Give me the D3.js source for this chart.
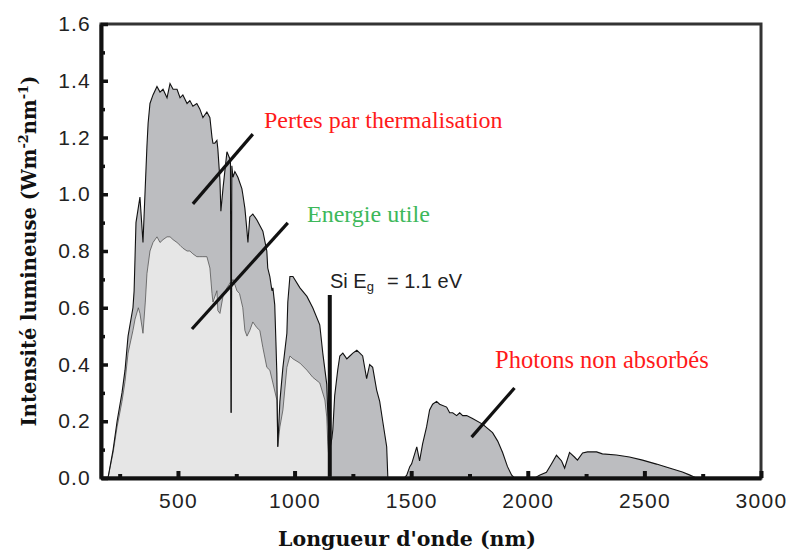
<!DOCTYPE html>
<html>
<head>
<meta charset="utf-8">
<script src="https://cdn.jsdelivr.net/npm/d3@7"></script>
<style>
  body { margin: 0; background: #fff; }
  svg { display: block; }
</style>
</head>
<body>
<svg id="chart" width="791" height="552"></svg>
<script>
const width = 791;
const height = 552;

// total solar spectrum [nm, W m-2 nm-1]
const totalSpectrum = [
    [200, 0], [222, 0.10], [239, 0.20], [260, 0.30], [273, 0.38], [286, 0.50], [307, 0.60],
    [312, 0.66], [320, 0.90], [337, 0.99], [350, 0.83], [367, 1.17], [372, 1.25], [380, 1.32],
    [393, 1.35], [410, 1.38], [423, 1.36], [436, 1.37], [453, 1.34], [466, 1.39], [479, 1.37],
    [496, 1.37], [509, 1.34], [521, 1.35], [539, 1.32], [551, 1.33], [564, 1.31], [581, 1.32],
    [594, 1.30], [607, 1.27], [624, 1.29], [637, 1.27], [646, 1.20], [650, 1.18], [658, 1.18],
    [667, 1.19], [671, 1.16], [680, 1.05], [684, 0.94], [693, 1.02], [710, 1.15], [725, 1.12],
    [728, 0.23], [731, 1.10], [736, 1.06], [744, 1.08], [757, 1.06], [774, 1.02], [778, 1.00],
    [787, 0.95], [796, 0.87], [800, 0.83], [808, 0.92], [821, 0.93], [838, 0.91], [851, 0.89],
    [864, 0.87], [881, 0.80], [885, 0.74], [894, 0.71], [903, 0.66], [907, 0.67], [915, 0.61],
    [920, 0.48], [924, 0.37], [928, 0.11], [937, 0.27], [950, 0.39], [967, 0.51], [971, 0.62],
    [980, 0.71], [993, 0.71], [1023, 0.67], [1053, 0.64], [1078, 0.60], [1108, 0.54], [1121, 0.44],
    [1138, 0.33], [1142, 0.24], [1151, 0.10], [1160, 0.14], [1164, 0.17], [1172, 0.29], [1185, 0.38],
    [1194, 0.43], [1207, 0.44], [1224, 0.42], [1237, 0.43], [1250, 0.44], [1267, 0.45], [1280, 0.44],
    [1292, 0.43], [1309, 0.35], [1322, 0.40], [1335, 0.39], [1352, 0.31], [1365, 0.27], [1378, 0.20],
    [1395, 0.11], [1400, 0], [1470, 0], [1481, 0.01], [1494, 0.04], [1502, 0.05], [1524, 0.11],
    [1536, 0.06], [1549, 0.12], [1566, 0.18], [1579, 0.24], [1592, 0.26], [1609, 0.27], [1622, 0.26],
    [1652, 0.25], [1665, 0.23], [1678, 0.23], [1695, 0.22], [1708, 0.23], [1721, 0.22], [1738, 0.22],
    [1763, 0.21], [1806, 0.19], [1849, 0.16], [1871, 0.13], [1892, 0.09], [1913, 0.04], [1931, 0.01],
    [1943, 0], [2030, 0], [2050, 0.01], [2080, 0.02], [2102, 0.05], [2123, 0.08], [2145, 0.06],
    [2158, 0.035], [2179, 0.09], [2200, 0.074], [2213, 0.063], [2235, 0.088], [2256, 0.092],
    [2295, 0.092], [2320, 0.085], [2380, 0.081], [2436, 0.074], [2492, 0.063], [2552, 0.049],
    [2607, 0.035], [2663, 0.021], [2693, 0.011], [2723, 0]
];

// part usable by a Si cell
const usefulSpectrum = [
    [200, 0], [222, 0.09], [239, 0.18], [260, 0.27], [273, 0.34], [286, 0.44], [307, 0.52],
    [316, 0.56], [330, 0.60], [337, 0.58], [350, 0.51], [360, 0.62], [367, 0.72], [380, 0.80],
    [393, 0.83], [410, 0.85], [423, 0.83], [436, 0.84], [453, 0.85], [466, 0.85], [479, 0.84],
    [496, 0.83], [509, 0.82], [521, 0.81], [539, 0.80], [551, 0.80], [564, 0.79], [581, 0.78],
    [594, 0.78], [607, 0.78], [624, 0.78], [637, 0.74], [646, 0.65], [650, 0.62], [667, 0.66],
    [671, 0.59], [680, 0.58], [693, 0.64], [710, 0.67], [725, 0.69], [728, 0.23], [731, 0.69],
    [736, 0.70], [753, 0.66], [764, 0.65], [778, 0.60], [787, 0.52], [796, 0.50], [808, 0.52],
    [821, 0.55], [838, 0.53], [851, 0.52], [864, 0.46], [881, 0.39], [894, 0.38], [907, 0.335],
    [924, 0.275], [928, 0.11], [937, 0.18], [950, 0.24], [967, 0.39], [980, 0.43], [993, 0.42],
    [1023, 0.405], [1053, 0.38], [1078, 0.355], [1108, 0.335], [1130, 0.275], [1138, 0.215],
    [1142, 0.13], [1151, 0.02], [1151, 0]
];

const gapNm = 1151;
const gapTop = 0.645;

const xMajor = [500, 1000, 1500, 2000, 2500, 3000];
const xMinor = [250, 750, 1250, 1750, 2250, 2750];
const yMajor = [0, 0.2, 0.4, 0.6, 0.8, 1.0, 1.2, 1.4, 1.6];
const yMinor = [0.1, 0.3, 0.5, 0.7, 0.9, 1.1, 1.3, 1.5];

// annotation pointers [[nm, value], [nm, value]]
const pointers = [
    [[564, 0.966], [821, 1.212]],
    [[560, 0.525], [971, 0.899]],
    [[1759, 0.144], [1943, 0.317]]
];

const margin = { top: 24, right: 30, bottom: 74, left: 101 };

const x = d3.scaleLinear().domain([170, 3000]).range([margin.left, width - margin.right]);
const y = d3.scaleLinear().domain([0, 1.6]).range([height - margin.bottom, margin.top]);

const svg = d3.select('#chart');

const area = d3.area()
    .x(d => x(d[0]))
    .y0(y(0))
    .y1(d => y(d[1]));
const line = d3.line()
    .x(d => x(d[0]))
    .y(d => y(d[1]));

svg.append('path')
    .datum(totalSpectrum)
    .attr('d', area)
    .attr('fill', '#bcbdc0');

svg.append('path')
    .datum(usefulSpectrum)
    .attr('d', area)
    .attr('fill', '#e6e6e6');

svg.append('path')
    .datum(usefulSpectrum)
    .attr('d', line)
    .attr('fill', 'none')
    .attr('stroke', '#555')
    .attr('stroke-width', 0.8);

svg.append('path')
    .datum(totalSpectrum)
    .attr('d', line)
    .attr('fill', 'none')
    .attr('stroke', '#111')
    .attr('stroke-width', 1.1);

// band gap line
svg.append('line')
    .attr('x1', x(gapNm)).attr('x2', x(gapNm))
    .attr('y1', y(0)).attr('y2', y(gapTop))
    .attr('stroke', '#111')
    .attr('stroke-width', 4);

svg.selectAll('.pointer')
    .data(pointers)
    .enter().append('line')
    .attr('class', 'pointer')
    .attr('x1', d => x(d[0][0])).attr('y1', d => y(d[0][1]))
    .attr('x2', d => x(d[1][0])).attr('y2', d => y(d[1][1]))
    .attr('stroke', '#111')
    .attr('stroke-width', 3.2);

// frame
svg.append('rect')
    .attr('x', x.range()[0]).attr('y', y.range()[1])
    .attr('width', x.range()[1] - x.range()[0])
    .attr('height', y.range()[0] - y.range()[1])
    .attr('fill', 'none')
    .attr('stroke', '#333')
    .attr('stroke-width', 3);

const tickFont = 'Liberation Sans, Arial, sans-serif';

const xAxis = svg.append('g')
    .attr('transform', `translate(0,${y(0)})`)
    .call(d3.axisBottom(x).tickValues(xMajor).tickFormat(d3.format('d'))
        .tickSizeInner(-7).tickSizeOuter(0).tickPadding(15));
xAxis.select('.domain').attr('stroke', '#111').attr('stroke-width', 4);
xAxis.selectAll('.tick line').attr('stroke', '#111').attr('stroke-width', 4);
xAxis.selectAll('.tick text')
    .attr('font-family', tickFont).attr('font-size', 21).attr('letter-spacing', 1.3).attr('fill', '#222');

const xAxisMinor = svg.append('g')
    .attr('transform', `translate(0,${y(0)})`)
    .call(d3.axisBottom(x).tickValues(xMinor).tickSizeInner(-4).tickSizeOuter(0).tickFormat(''));
xAxisMinor.select('.domain').remove();
xAxisMinor.selectAll('.tick line').attr('stroke', '#111').attr('stroke-width', 4);

const yAxis = svg.append('g')
    .attr('transform', `translate(${x.range()[0]},0)`)
    .call(d3.axisLeft(y).tickValues(yMajor).tickFormat(d3.format('.1f'))
        .tickSizeInner(-7).tickSizeOuter(0).tickPadding(10));
yAxis.select('.domain').attr('stroke', '#111').attr('stroke-width', 4);
yAxis.selectAll('.tick line').attr('stroke', '#111').attr('stroke-width', 3.5);
yAxis.selectAll('.tick text')
    .attr('font-family', tickFont).attr('font-size', 21).attr('letter-spacing', 1.2).attr('fill', '#222');

const yAxisMinor = svg.append('g')
    .attr('transform', `translate(${x.range()[0]},0)`)
    .call(d3.axisLeft(y).tickValues(yMinor).tickSizeInner(-4).tickSizeOuter(0).tickFormat(''));
yAxisMinor.select('.domain').remove();
yAxisMinor.selectAll('.tick line').attr('stroke', '#111').attr('stroke-width', 3.5);

// axis titles
const serif = 'DejaVu Serif, Liberation Serif, serif';

svg.append('text')
    .attr('x', 407).attr('y', 546)
    .attr('text-anchor', 'middle')
    .attr('font-family', serif).attr('font-weight', 'bold').attr('font-size', 20.5)
    .attr('fill', '#111')
    .text("Longueur d'onde (nm)");

const yTitle = svg.append('text')
    .attr('transform', 'translate(36,251) rotate(-90)')
    .attr('text-anchor', 'middle')
    .attr('font-family', serif).attr('font-weight', 'bold').attr('font-size', 19.5)
    .attr('fill', '#111');
yTitle.append('tspan').text('Intensité lumineuse (Wm');
yTitle.append('tspan').attr('font-size', 13).attr('dy', -8).text('-2');
yTitle.append('tspan').attr('dy', 8).text('nm');
yTitle.append('tspan').attr('font-size', 13).attr('dy', -8).text('-1');
yTitle.append('tspan').attr('dy', 8).text(')');

// annotations
const noteFont = 'Liberation Serif, Times New Roman, serif';

svg.append('text')
    .attr('x', 264).attr('y', 128)
    .attr('font-family', noteFont).attr('font-size', 24)
    .attr('fill', '#ff1a1a')
    .text('Pertes par thermalisation');

svg.append('text')
    .attr('x', 307).attr('y', 222)
    .attr('font-family', noteFont).attr('font-size', 24)
    .attr('fill', '#3db85a')
    .text('Energie utile');

svg.append('text')
    .attr('x', 495).attr('y', 368)
    .attr('font-family', noteFont).attr('font-size', 24.5)
    .attr('fill', '#ff1a1a')
    .text('Photons non absorbés');

const gapLabel = svg.append('text')
    .attr('x', 330).attr('y', 288)
    .attr('font-family', tickFont).attr('font-size', 20)
    .attr('fill', '#222');
gapLabel.append('tspan').text('Si E');
gapLabel.append('tspan').attr('font-size', 13).attr('dy', 3).text('g');
gapLabel.append('tspan').attr('dy', -3).attr('dx', 13).text('= 1.1 eV');
</script>
</body>
</html>
